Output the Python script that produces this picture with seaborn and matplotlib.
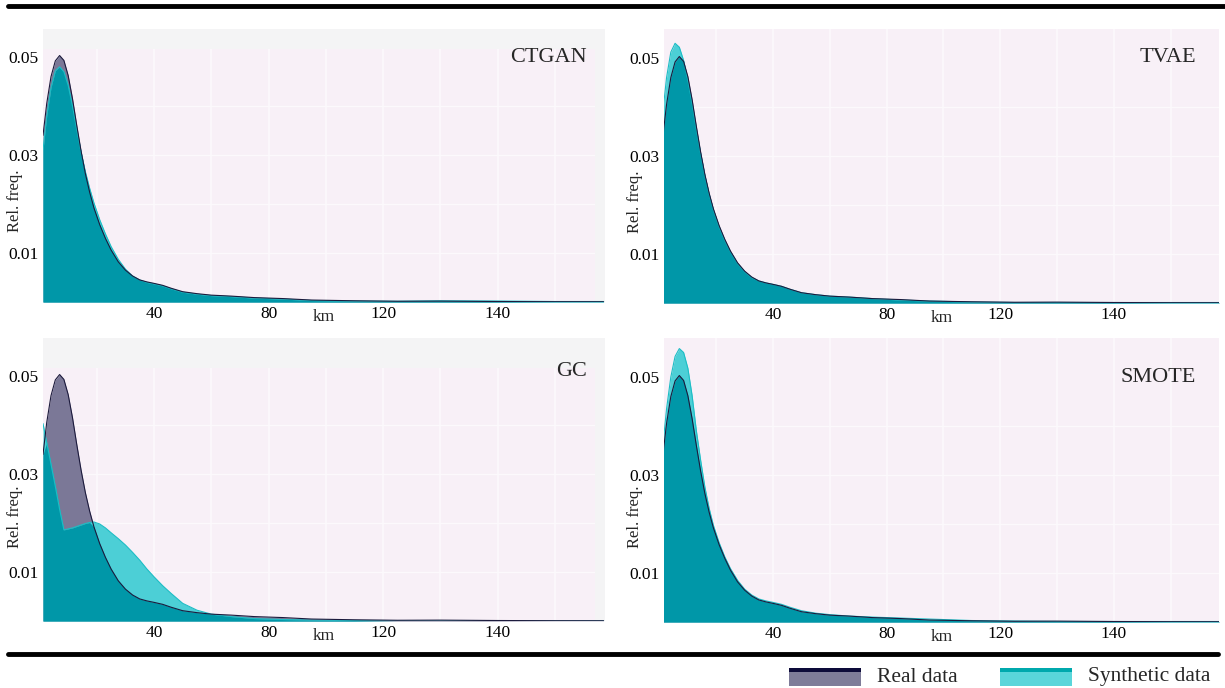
import numpy as np
import pandas as pd
import matplotlib
matplotlib.use("Agg")
import matplotlib.pyplot as plt
import matplotlib.patches as mpatches
from matplotlib.lines import Line2D
import seaborn as sns

# ---- data ----
x_km = [1.2, 2.5, 4, 5.5, 7, 8.5, 10, 11.5, 13, 14.5, 16, 17.5, 19, 21, 23, 25,
        27.5, 30, 32.5, 35, 37.5, 40, 43, 46, 50, 55, 60, 67, 75, 85, 95, 110,
        125, 140, 160, 180, 197]

real = [0.034, 0.0405, 0.046, 0.0492, 0.0503, 0.0493, 0.0462, 0.0415, 0.036,
        0.0308, 0.0262, 0.0224, 0.0192, 0.0158, 0.013, 0.0106, 0.0082, 0.0065,
        0.0053, 0.0045, 0.0041, 0.0038, 0.0034, 0.0028, 0.0021, 0.0017, 0.0014,
        0.0012, 0.0009, 0.0007, 0.0004, 0.00025, 0.00015, 0.00018, 0.0001,
        0.00006, 0.00005]

synth_ctgan = [0.031, 0.038, 0.0438, 0.0472, 0.048, 0.047, 0.0442, 0.04, 0.0352,
               0.0306, 0.0266, 0.0232, 0.0202, 0.0168, 0.0139, 0.0113, 0.0087,
               0.0067, 0.0053, 0.0045, 0.004, 0.0037, 0.0033, 0.0027, 0.002,
               0.0016, 0.0013, 0.0011, 0.0008, 0.0006, 0.0003, 0.0002, 0.00015,
               0.00025, 0.0002, 0.0001, 0.0001]

synth_tvae = [0.039, 0.046, 0.0512, 0.053, 0.0522, 0.0495, 0.0455, 0.0408, 0.0355,
              0.0305, 0.026, 0.0222, 0.019, 0.0156, 0.0128, 0.0105, 0.0081, 0.0064,
              0.0052, 0.0045, 0.0041, 0.0038, 0.0034, 0.0028, 0.0021, 0.0017,
              0.0014, 0.0012, 0.0009, 0.0006, 0.0004, 0.0002, 0.0001, 0.0001,
              0.0001, 0.0001, 0.0001]

synth_gc = [0.0403, 0.0364, 0.032, 0.0275, 0.0228, 0.0186, 0.0188, 0.019, 0.0193,
            0.0196, 0.0199, 0.0201, 0.0202, 0.0198, 0.019, 0.018, 0.0168, 0.0155,
            0.014, 0.0124, 0.0106, 0.009, 0.0072, 0.0056, 0.0036, 0.0022, 0.0014,
            0.0009, 0.0005, 0.0003, 0.0002, 0.0001, 0.0, 0.0, 0.0, 0.0, 0.0]

synth_smote = [0.036, 0.0435, 0.05, 0.0542, 0.0558, 0.055, 0.0518, 0.0462, 0.039,
               0.033, 0.0275, 0.0232, 0.0197, 0.0162, 0.0133, 0.0109, 0.0085,
               0.0067, 0.0055, 0.0047, 0.0043, 0.004, 0.0036, 0.003, 0.0023,
               0.0018, 0.0015, 0.0012, 0.001, 0.0008, 0.0006, 0.0003, 0.0002,
               0.0001, 0.0001, 0.0001, 0.0001]

models = ["CTGAN", "TVAE", "GC", "SMOTE"]
synth_series = [synth_ctgan, synth_tvae, synth_gc, synth_smote]

x_ticks = [40, 80, 120, 160]
x_tick_labels = ["40", "80", "120", "140"]
y_ticks = [0.01, 0.03, 0.05]
y_tick_labels = ["0.01", "0.03", "0.05"]

# ---- style ----
sns.set_theme(style="white")
plt.rcParams["font.family"] = ["Liberation Serif", "DejaVu Serif"]

PINK = "#f8f0f7"
GREY = "#f4f4f5"
GRID = "#fcf9fc"
REAL_FILL = "#7b7897"
REAL_EDGE = "#1c1a3c"
SYN_FILL = "#4ccfd6"
SYN_EDGE = "#1dbdc5"
OVERLAP = "#0097a8"

W, H = 1225, 688
fig = plt.figure(figsize=(W / 100, H / 100), dpi=100)

# pixel boxes: left, top, right, bottom
boxes = [(43, 29, 605, 302), (664, 29, 1219, 303),
         (43, 338, 605, 621), (664, 338, 1219, 622)]

for i, (name, syn) in enumerate(zip(models, synth_series)):
    l, t, r, b = boxes[i]
    ax = fig.add_axes([l / W, 1 - b / H, (r - l) / W, (b - t) / H])
    left_col = i % 2 == 0
    ax.set_facecolor(PINK)

    df = pd.DataFrame({"km": x_km, "real": real, "synth": syn})
    df["both"] = np.minimum(df["real"], df["synth"])

    ax.fill_between(df["km"], 0, df["real"], color=REAL_FILL, lw=0, zorder=2)
    ax.fill_between(df["km"], 0, df["synth"], color=SYN_FILL, lw=0, zorder=2)
    ax.fill_between(df["km"], 0, df["both"], color=OVERLAP, lw=0, zorder=3)
    sns.lineplot(data=df, x="km", y="synth", ax=ax, color=SYN_EDGE, lw=0.8, zorder=4)
    sns.lineplot(data=df, x="km", y="real", ax=ax, color=REAL_EDGE, lw=0.8, zorder=4)

    ymax = (b - t) / 4900
    # grid
    for gx in range(20, 200, 20):
        ax.axvline(gx, color=GRID, lw=1.2, zorder=1.2)
    for gy in [0.01, 0.02, 0.03, 0.04]:
        ax.axhline(gy, color=GRID, lw=1.0, zorder=1.2)

    if left_col:
        ax.set_xlim(1.2, 197.5)
        ax.axhspan(0.0517, ymax, color=GREY, lw=0, zorder=1.5)
        ax.axvspan(194, 197.5, color=GREY, lw=0, zorder=1.5)
    else:
        ax.set_xlim(1.6, 197)
    ax.set_ylim(0, ymax)

    ax.set_xticks(x_ticks)
    ax.set_xticklabels(x_tick_labels)
    ax.set_yticks(y_ticks)
    ax.set_yticklabels(y_tick_labels)
    ax.tick_params(length=0, labelsize=12.5, pad=3, colors="black")
    for s in ax.spines.values():
        s.set_visible(False)

    ax.set_xlabel("km", fontsize=12.5)
    ax.xaxis.set_label_coords(0.5, -0.025)
    ax.set_ylabel("Rel. freq.", fontsize=12)
    ax.yaxis.set_label_coords(-0.036 if left_col else -0.037, 0.37)

    ty = 0.897 if i < 2 else (0.88 if i == 2 else 0.86)
    tx = 0.968 if left_col else 0.958
    ax.text(tx, ty, name, transform=ax.transAxes, ha="right", va="center",
            fontsize=16)

# top and bottom rules
fig.add_artist(Line2D([8 / W, 1.0], [1 - 6 / H] * 2, color="black", lw=3.5))
fig.add_artist(Line2D([8 / W, 1218 / W], [1 - 654 / H] * 2, color="black", lw=3.5))

# legend
legend_items = [("Real data", "#7e7c99", "#0d0b3a", 789),
                ("Synthetic data", "#5ad6da", "#00a9ad", 1000)]
for label, fill, edge, px in legend_items:
    fig.add_artist(mpatches.Rectangle((px / W, 1 - 686 / H), 72 / W, 14 / H,
                                      transform=fig.transFigure, color=fill, lw=0))
    fig.add_artist(mpatches.Rectangle((px / W, 1 - 672 / H), 72 / W, 4 / H,
                                      transform=fig.transFigure, color=edge, lw=0))
    fig.text((px + 88) / W, 1 - 677 / H, label, ha="left", va="center", fontsize=15.5)

fig.savefig("out.png", dpi=100)
